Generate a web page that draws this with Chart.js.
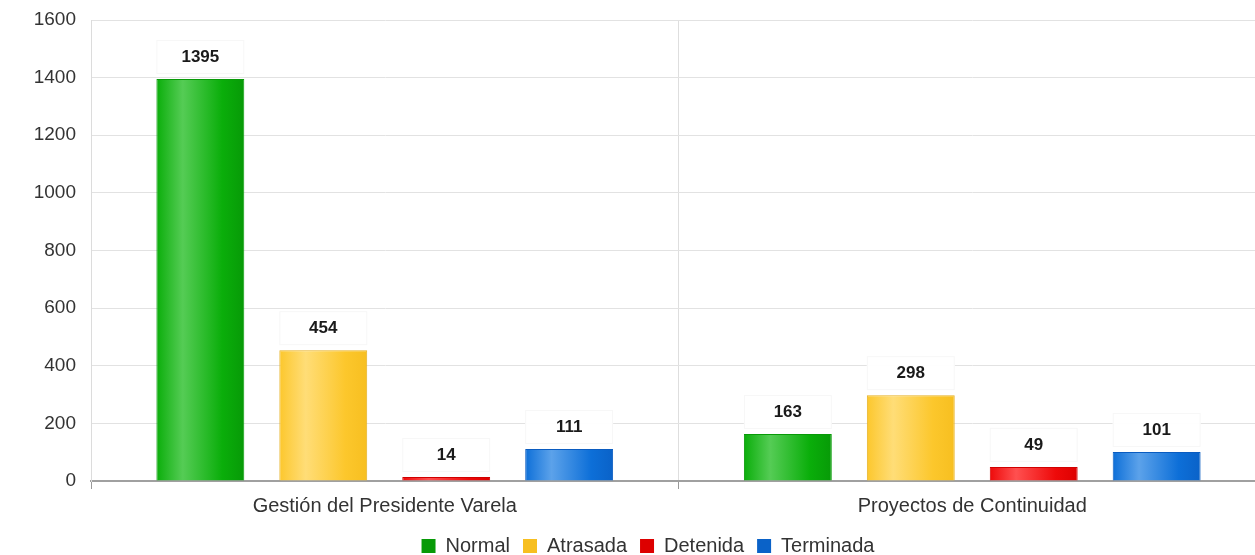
<!DOCTYPE html>
<html>
<head>
<meta charset="utf-8">
<script src="https://cdn.jsdelivr.net/npm/chart.js@4.4.0/dist/chart.umd.min.js"></script>
<style>
  html, body { margin: 0; padding: 0; background: #fff; overflow: hidden; }
  #wrap { width: 1296px; height: 568px; }
</style>
</head>
<body>
<div id="wrap"><canvas id="chart" width="1296" height="568"></canvas></div>
<script>
// data
const categories = ['Gestión del Presidente Varela', 'Proyectos de Continuidad'];
const normal = [1395, 163];
const atrasada = [454, 298];
const detenida = [14, 49];
const terminada = [111, 101];
const yTicks = [0, 200, 400, 600, 800, 1000, 1200, 1400, 1600];

const CAT_PCT = 0.837;
const BAR_PCT = 0.715;
const FONT = 'Arial, "Liberation Sans", sans-serif';

// horizontal shine on each bar, computed from the x scale
function barFill(edge, light, dark) {
  return ctx => {
    const chart = ctx.chart;
    const x = chart.scales && chart.scales.x;
    if (!chart.chartArea || !x || ctx.dataIndex === undefined) return edge;
    const n = chart.data.datasets.length;
    const catW = x.width / categories.length;
    const groupW = catW * CAT_PCT;
    const step = groupW / n;
    const left = x.getPixelForValue(ctx.dataIndex) - groupW / 2 + step * ctx.datasetIndex + step * (1 - BAR_PCT) / 2;
    const w = step * BAR_PCT;
    const g = chart.ctx.createLinearGradient(left, 0, left + w, 0);
    g.addColorStop(0, edge);
    g.addColorStop(0.3, light);
    g.addColorStop(0.75, edge);
    g.addColorStop(1, dark);
    return g;
  };
}

const valueLabels = {
  id: 'valueLabels',
  afterDatasetsDraw(chart) {
    const c = chart.ctx;
    c.save();
    chart.data.datasets.forEach((ds, di) => {
      chart.getDatasetMeta(di).data.forEach((bar, i) => {
        const w = bar.width;
        c.fillStyle = 'rgba(255,255,255,0.95)';
        c.strokeStyle = '#f7f7f7';
        c.lineWidth = 1;
        c.fillRect(bar.x - w / 2, bar.y - 39, w, 34);
        c.strokeRect(bar.x - w / 2 + 0.5, bar.y - 38.5, w - 1, 33);
        c.fillStyle = '#1a1a1a';
        c.font = 'bold 17px ' + FONT;
        c.textAlign = 'center';
        c.textBaseline = 'middle';
        c.fillText(ds.data[i], bar.x, bar.y - 22);
      });
    });
    c.restore();
  }
};

// legend sits centred on the full original width, a bit right of the plot centre
const legendShift = {
  id: 'legendShift',
  afterLayout(chart) {
    chart.legend.left += 15;
    chart.legend.right += 15;
  }
};

new Chart(document.getElementById('chart'), {
  type: 'bar',
  data: {
    labels: categories,
    datasets: [
      { label: 'Normal', data: normal, backgroundColor: barFill('#0aae0a', '#55cc55', '#079a07'), borderColor: '#089a08' },
      { label: 'Atrasada', data: atrasada, backgroundColor: barFill('#fcc72c', '#ffdd77', '#f7bf20'), borderColor: '#e6b020' },
      { label: 'Detenida', data: detenida, backgroundColor: barFill('#ee0a0a', '#ff5050', '#dd0000'), borderColor: '#d00000' },
      { label: 'Terminada', data: terminada, backgroundColor: barFill('#0d6fd8', '#5ca2ea', '#0a62c8'), borderColor: '#0a5cc0' }
    ].map(d => Object.assign(d, { borderWidth: 1, categoryPercentage: CAT_PCT, barPercentage: BAR_PCT }))
  },
  options: {
    responsive: false,
    animation: false,
    layout: { padding: { top: 20, right: 30, left: 0, bottom: 2 } },
    plugins: {
      tooltip: { enabled: false },
      legend: {
        position: 'bottom',
        labels: {
          color: '#333',
          font: { family: FONT, size: 20 },
          boxWidth: 14,
          boxHeight: 14,
          padding: 13,
          generateLabels(chart) {
            return Chart.defaults.plugins.legend.labels.generateLabels(chart)
              .map(l => Object.assign(l, { lineWidth: 0 }));
          }
        }
      }
    },
    scales: {
      x: {
        grid: { color: '#dedede', tickColor: '#999', tickLength: 8, offset: true },
        border: { color: '#a0a0a0', width: 2 },
        ticks: { color: '#333', font: { family: FONT, size: 20 }, padding: 5 }
      },
      y: {
        min: 0,
        max: 1600,
        afterBuildTicks: s => { s.ticks = yTicks.map(v => ({ value: v })); },
        afterFit: s => { s.width = 91; s.paddingTop = 0; s.paddingBottom = 0; },
        grid: { color: '#e2e2e2', drawTicks: false },
        border: { color: '#dcdcdc' },
        ticks: { color: '#333', font: { family: FONT, size: 19 }, padding: 15, callback: v => String(v) }
      }
    }
  },
  plugins: [valueLabels, legendShift]
});
</script>
</body>
</html>
